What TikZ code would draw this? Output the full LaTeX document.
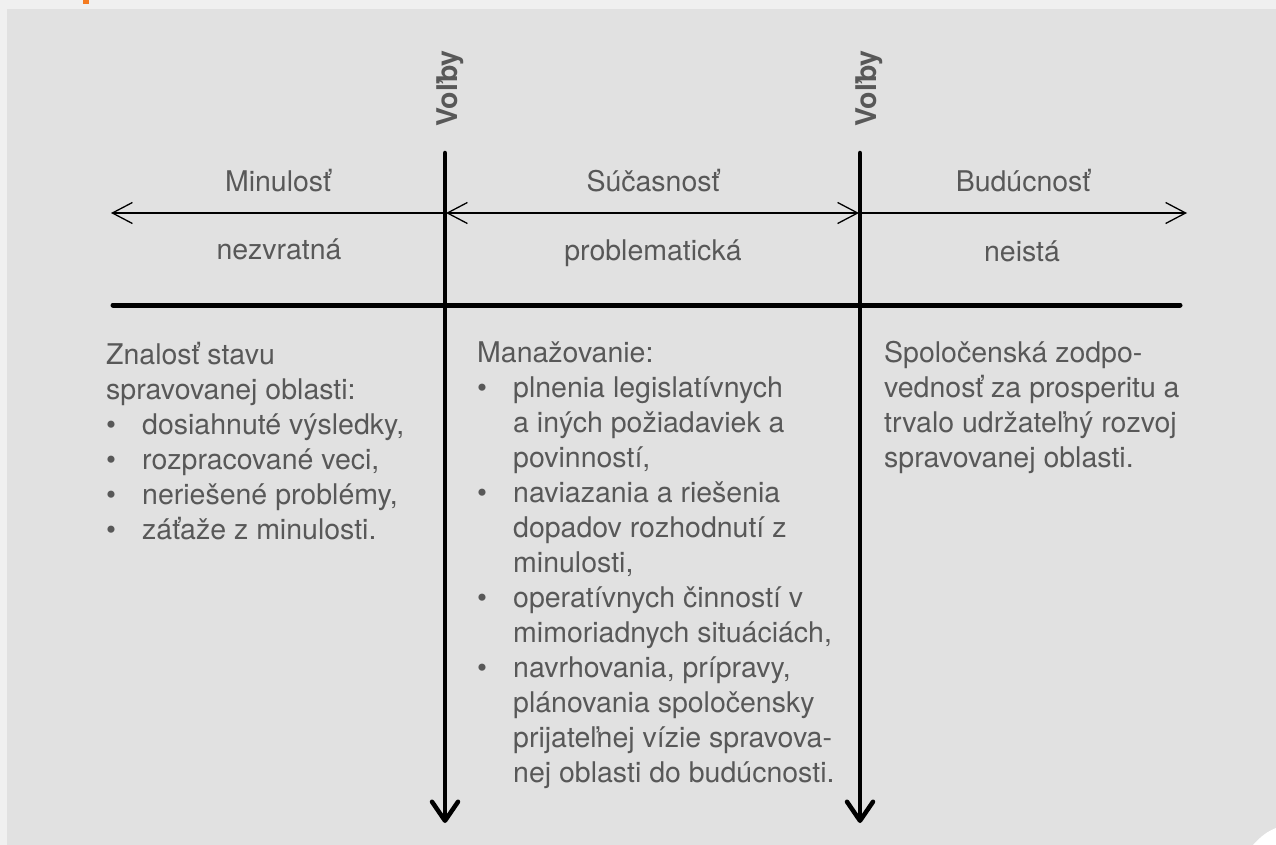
\documentclass[tikz,border=0pt]{standalone}
\usepackage{fontspec}
\setmainfont{TeX Gyre Heros}
\usetikzlibrary{arrows.meta}

\definecolor{pagebg}{HTML}{F0F0F0}
\definecolor{panelbg}{HTML}{E1E1E1}
\definecolor{txt}{HTML}{585858}
\definecolor{accent}{HTML}{F47B20}

% multi-line text block whose baseline is the first line's baseline
\newcommand\txtlines[1]{\vtop{\baselineskip=35pt\lineskiplimit=-20pt\halign{##\hfil\cr#1\crcr}}}
\newcommand\bul{\makebox[36pt][l]{•}}
\newcommand\ind{\hspace*{36pt}}

\tikzset{
  lbl/.style={inner sep=0pt, text=txt, font=\fontsize{28.5}{35}\selectfont, anchor=base},
  body/.style={inner sep=0pt, text=txt, font=\fontsize{28.5}{35}\selectfont, anchor=base west},
  vote/.style={inner sep=0pt, text=txt, font=\fontsize{28.5}{35}\selectfont\bfseries, rotate=90, anchor=base west},
  timeline/.style={line width=1.3pt, draw=black},
  thinhead/.style={arrows={-Straight Barb[length=20pt,width=21pt]}},
  bothhead/.style={arrows={Straight Barb[length=20pt,width=21pt]-Straight Barb[length=20pt,width=21pt]}},
  election/.style={line width=4.5pt, draw=black, line cap=round,
    arrows={-Straight Barb[length=19pt,width=26pt,round]}},
  divider/.style={line width=5pt, draw=black, line cap=round},
}

\begin{document}
\begin{tikzpicture}[x=1pt, y=-1pt]
  % page and panel
  \fill[pagebg] (0,0) rectangle (1276,845);
  \useasboundingbox (0,0) rectangle (1276,845);
  \fill[panelbg] (7,9) rectangle (1276,845);
  \fill[accent] (83,0) rectangle (89,4);
  \fill[white] (1253,845) .. controls (1261,836) and (1268,831) .. (1276,828) -- (1276,845) -- cycle;

  % time axis
  \coordinate (pastEnd) at (111,213);
  \coordinate (nowL) at (446,213);
  \coordinate (nowR) at (859,213);
  \coordinate (futureEnd) at (1187,213);
  \draw[timeline, thinhead] (nowL) -- (pastEnd);
  \draw[timeline, bothhead] (nowL) -- (nowR);
  \draw[timeline, thinhead] (nowR) -- (futureEnd);

  % horizontal divider
  \coordinate (divL) at (113,305);
  \coordinate (divR) at (1180,305);
  \draw[divider] (divL) -- (divR);

  % elections
  \coordinate (e1top) at (445,153);
  \coordinate (e1bot) at (445,823);
  \coordinate (e2top) at (860,153);
  \coordinate (e2bot) at (860,823);
  \draw[election] (e1top) -- (e1bot);
  \draw[election] (e2top) -- (e2bot);
  \node[vote] (vote1) at (457,127) {Voľby};
  \node[vote] (vote2) at (876,127) {Voľby};

  % period labels
  \node[lbl] (past) at (278,191) {Minulosť};
  \node[lbl] (present) at (653,191) {Súčasnosť};
  \node[lbl] (future) at (1023,191) {Budúcnosť};
  \node[lbl] (pastq) at (279,259) {nezvratná};
  \node[lbl] (presentq) at (653,260) {problematická};
  \node[lbl] (futureq) at (1022,261) {neistá};

  % column texts
  \node[body] (pastText) at (106,364) {\txtlines{%
    Znalosť stavu\cr
    spravovanej oblasti:\cr
    \bul dosiahnuté výsledky,\cr
    \bul rozpracované veci,\cr
    \bul neriešené problémy,\cr
    \bul záťaže z minulosti.}};
  \node[body] (presentText) at (477,362) {\txtlines{%
    Manažovanie:\cr
    \bul plnenia legislatívnych\cr
    \ind a iných požiadaviek a\cr
    \ind povinností,\cr
    \bul naviazania a riešenia\cr
    \ind dopadov rozhodnutí z\cr
    \ind minulosti,\cr
    \bul operatívnych činností v\cr
    \ind mimoriadnych situáciách,\cr
    \bul navrhovania, prípravy,\cr
    \ind plánovania spoločensky\cr
    \ind prijateľnej vízie spravova-\cr
    \ind nej oblasti do budúcnosti.}};
  \node[body] (futureText) at (884,362) {\txtlines{%
    Spoločenská zodpo-\cr
    vednosť za prosperitu a\cr
    trvalo udržateľný rozvoj\cr
    spravovanej oblasti.}};
\end{tikzpicture}
\end{document}
